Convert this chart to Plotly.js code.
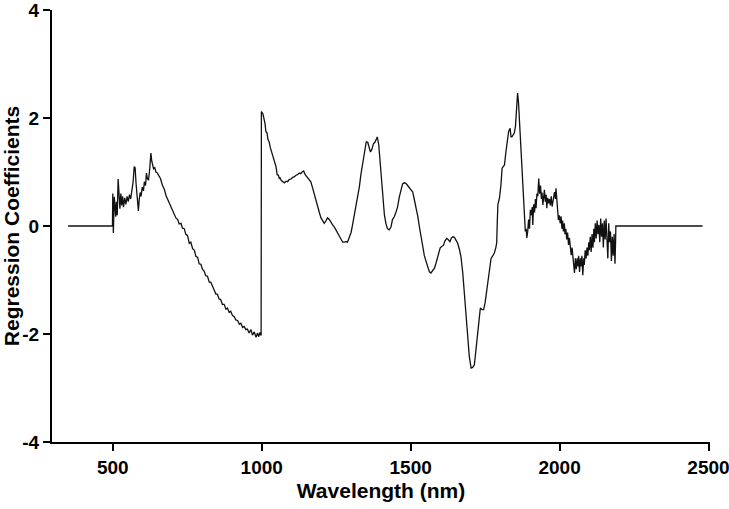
<!DOCTYPE html>
<html>
<head>
<meta charset="utf-8">
<script src="https://cdn.plot.ly/plotly-3.0.1.min.js"></script>
<style>
  html, body { margin: 0; padding: 0; background: #fff; }
  #chart { width: 729px; height: 509px; }
</style>
</head>
<body>
<div id="chart"></div>
<script>
// Longitudes de onda (nm) y coeficientes
const wavelength = [
  350, 495, 499, 500, 502, 505, 508, 510, 512, 515, 518, 521, 524, 527, 530, 533, 536, 540, 544, 548,
  552, 556, 560, 564, 568, 572, 575, 578, 581, 584, 586, 589, 592, 595, 599, 603, 606, 610, 613, 616,
  620, 624, 628, 631, 634, 637, 641, 645, 650, 655, 660, 667, 673, 679, 684, 690, 695, 700, 706, 712,
  718, 723, 729, 734, 740, 745, 751, 757, 762, 768, 774, 779, 785, 790, 796, 801, 807, 812, 818, 824,
  829, 835, 840, 846, 851, 857, 862, 868, 874, 880, 885, 891, 896, 902, 908, 913, 919, 925, 930, 936,
  941, 947, 952, 958, 964, 969, 975, 981, 986, 990, 994, 998,
  999, 1004, 1008, 1011, 1014, 1018, 1021, 1025, 1029, 1033, 1037, 1041, 1045, 1048, 1052, 1056, 1059, 1062, 1066, 1070,
  1076, 1082, 1087, 1092, 1098, 1104, 1109, 1115, 1120, 1126, 1131, 1136, 1141, 1146, 1150, 1154, 1160, 1165, 1171, 1177,
  1183, 1188, 1194, 1199, 1205, 1210, 1216, 1221, 1227, 1233, 1238, 1244, 1250, 1255, 1260, 1266, 1272, 1277, 1283, 1288,
  1294, 1300, 1305, 1311, 1316, 1322, 1328, 1333, 1339, 1344, 1351, 1356, 1361, 1365, 1370, 1375, 1380, 1385, 1388, 1393,
  1397, 1401, 1406, 1412, 1417, 1422, 1428, 1434, 1439, 1445, 1451, 1456, 1462, 1467, 1473, 1478, 1484, 1490, 1496, 1501,
  1507, 1512, 1518, 1524, 1529, 1535, 1540, 1546, 1552, 1557, 1563, 1568, 1574, 1580, 1585, 1592, 1599, 1604, 1610, 1615,
  1621, 1626, 1632, 1637, 1642, 1647, 1653, 1658, 1664, 1669, 1675, 1680, 1686, 1691, 1697, 1703, 1708, 1714, 1719, 1724,
  1729, 1734, 1740, 1745, 1750, 1755, 1760, 1765, 1770, 1776, 1781, 1786, 1789, 1791, 1793, 1798, 1803, 1807, 1812, 1815,
  1820, 1825, 1829, 1834, 1837, 1840, 1844, 1848, 1852, 1854, 1857, 1859, 1862, 1865, 1869, 1872, 1875, 1879, 1882, 1885,
  1888, 1890, 1893, 1896, 1899, 1902, 1905, 1908, 1910, 1913, 1916, 1919, 1921, 1924, 1927, 1930, 1933, 1936, 1939, 1941,
  1944, 1947, 1949, 1952, 1955, 1957, 1960, 1963, 1966, 1969, 1972, 1975, 1978, 1981, 1983, 1986, 1988, 1991, 1994, 1996,
  1999, 2002, 2005, 2008, 2010, 2013, 2016, 2018, 2021, 2024, 2027, 2030, 2033, 2036, 2039, 2042, 2045, 2048, 2050, 2053,
  2056, 2059, 2062, 2064, 2067, 2070, 2072, 2075, 2078, 2081, 2083, 2086, 2089, 2092, 2095, 2098, 2100, 2103, 2106, 2109,
  2112, 2115, 2117, 2120, 2123, 2126, 2129, 2132, 2135, 2138, 2141, 2144, 2147, 2150, 2153, 2156, 2159, 2162, 2165, 2168,
  2171, 2174, 2177, 2180, 2183, 2186, 2188, 2189, 2480
];

const coeficientes = [
  0, 0, 0, 0.6, -0.13, 0.54, 0.3, 0.17, 0.45, 0.2, 0.87, 0.4, 0.32, 0.6, 0.38, 0.55, 0.35, 0.52, 0.4, 0.55,
  0.45, 0.58, 0.5, 0.65, 0.8, 1.1, 1.08, 0.8, 0.6, 0.4, 0.28, 0.5, 0.62, 0.55, 0.72, 0.65, 0.82, 0.75, 0.98, 0.88,
  0.85, 1.05, 1.35, 1.2, 1.1, 1.06, 1.08, 1.0, 0.98, 0.92, 0.88, 0.75, 0.68, 0.56, 0.5, 0.4, 0.36, 0.28, 0.22, 0.15,
  0.12, 0.04, 0.05, -0.04, -0.05, -0.15, -0.18, -0.32, -0.3, -0.42, -0.45, -0.56, -0.58, -0.7, -0.71, -0.8, -0.84, -0.92, -0.93, -1.04,
  -1.04, -1.14, -1.18, -1.26, -1.26, -1.35, -1.36, -1.45, -1.45, -1.54, -1.52, -1.6, -1.58, -1.66, -1.68, -1.74, -1.75, -1.82, -1.8, -1.88,
  -1.86, -1.92, -1.91, -1.98, -1.92, -2.02, -1.96, -2.06, -1.98, -2.05, -1.97, -2.03,
  2.12, 2.08, 2.0, 1.9, 1.75, 1.72, 1.6, 1.56, 1.45, 1.38, 1.31, 1.2, 1.15, 1.1, 0.95, 0.94, 0.88, 0.89, 0.84, 0.82,
  0.8, 0.83, 0.82, 0.86, 0.87, 0.9, 0.91, 0.94, 0.95, 0.98, 0.97, 1.0, 1.02, 0.95, 0.92, 0.89, 0.85, 0.82, 0.7, 0.57,
  0.45, 0.33, 0.24, 0.15, 0.1, 0.05, 0.1, 0.15, 0.12, 0.05, 0.02, -0.02, -0.08, -0.13, -0.2, -0.26, -0.3, -0.3, -0.29, -0.3,
  -0.2, -0.12, 0.02, 0.2, 0.36, 0.52, 0.73, 0.95, 1.16, 1.38, 1.56, 1.55, 1.45, 1.37, 1.42, 1.52, 1.55, 1.62, 1.65, 1.5,
  1.2, 0.85, 0.6, 0.2, 0.05, -0.05, -0.07, -0.02, 0.12, 0.17, 0.26, 0.35, 0.54, 0.68, 0.78, 0.8, 0.79, 0.75, 0.7, 0.66,
  0.63, 0.5, 0.36, 0.18, 0.0, -0.2, -0.38, -0.55, -0.66, -0.76, -0.85, -0.87, -0.82, -0.78, -0.69, -0.55, -0.41, -0.38, -0.36, -0.28,
  -0.23, -0.25, -0.29, -0.22, -0.2, -0.21, -0.26, -0.32, -0.44, -0.57, -0.87, -1.19, -1.6, -2.05, -2.42, -2.63, -2.62, -2.57, -2.3, -1.98,
  -1.75, -1.52, -1.55, -1.55, -1.42, -1.2, -1.0, -0.75, -0.6, -0.55, -0.5, -0.4, -0.31, 0.1, 0.4, 0.51, 0.75, 1.07, 1.1, 1.13,
  1.38, 1.6, 1.75, 1.81, 1.65, 1.65, 1.68, 1.72, 1.85, 2.0, 2.3, 2.46, 2.3, 2.0, 1.6, 1.2, 0.8, 0.57, 0.3, -0.1,
  -0.05, -0.22, -0.1, 0.12, -0.05, 0.3, 0.2, 0.35, 0.02, 0.4, 0.25, 0.5, 0.33, 0.6, 0.55, 0.88, 0.6, 0.75, 0.5, 0.62,
  0.39, 0.6, 0.67, 0.45, 0.58, 0.33, 0.52, 0.42, 0.5, 0.38, 0.55, 0.36, 0.5, 0.6, 0.63, 0.5, 0.7, 0.48, 0.3, 0.11,
  0.2, 0.05, 0.18, -0.05, 0.1, -0.1, 0.05, -0.15, -0.05, -0.25, -0.12, -0.35, -0.22, -0.4, -0.54, -0.4, -0.62, -0.66, -0.87, -0.6,
  -0.8, -0.6, -0.75, -0.55, -0.85, -0.6, -0.75, -0.55, -0.91, -0.6, -0.72, -0.45, -0.6, -0.4, -0.55, -0.3, -0.45, -0.2, -0.48, -0.15,
  -0.4, -0.05, -0.3, 0.05, -0.23, 0.1, -0.15, 0.02, -0.3, 0.14, -0.2, 0.05, -0.4, 0.1, -0.25, 0.14, -0.3, -0.6, 0.05, -0.3,
  -0.1, -0.65, -0.2, -0.55, -0.15, -0.7, -0.3, 0, 0
];

const xTicks = [500, 1000, 1500, 2000, 2500];
const yTicks = [-4, -2, 0, 2, 4];
const yTickText = ["-4", "-2", "0", "2", "4"];

const fuente = "Liberation Sans, Arial, sans-serif";

const trace = {
  x: wavelength,
  y: coeficientes,
  type: 'scatter',
  mode: 'lines',
  line: { color: '#111111', width: 1.3 },
  hoverinfo: 'skip'
};

const layout = {
  width: 729,
  height: 509,
  margin: { l: 52, r: 19, t: 10, b: 67 },
  paper_bgcolor: '#ffffff',
  plot_bgcolor: '#ffffff',
  showlegend: false,
  xaxis: {
    range: [296, 2505],
    tickmode: 'array',
    tickvals: xTicks,
    showgrid: false,
    zeroline: false,
    showline: true,
    linecolor: '#000',
    linewidth: 2,
    ticks: 'outside',
    ticklen: 7,
    tickwidth: 2,
    tickcolor: '#000',
    ticklabeloverflow: 'allow',
    tickfont: { family: fuente, size: 19, color: '#000', weight: 'bold' },
    title: { text: 'Wavelength (nm)', font: { family: fuente, size: 21, color: '#000', weight: 'bold' }, standoff: 7 }
  },
  yaxis: {
    range: [-4, 4],
    tickmode: 'array',
    tickvals: yTicks,
    ticktext: yTickText,
    showgrid: false,
    zeroline: false,
    showline: true,
    linecolor: '#000',
    linewidth: 2,
    ticks: 'outside',
    ticklen: 7,
    tickwidth: 2,
    tickcolor: '#000',
    ticklabeloverflow: 'allow',
    tickfont: { family: fuente, size: 19, color: '#000', weight: 'bold' },
    title: { text: 'Regression Coefficients', font: { family: fuente, size: 21, color: '#000', weight: 'bold' }, standoff: 3 }
  }
};

Plotly.newPlot('chart', [trace], layout, { displayModeBar: false, staticPlot: true });
</script>
</body>
</html>
